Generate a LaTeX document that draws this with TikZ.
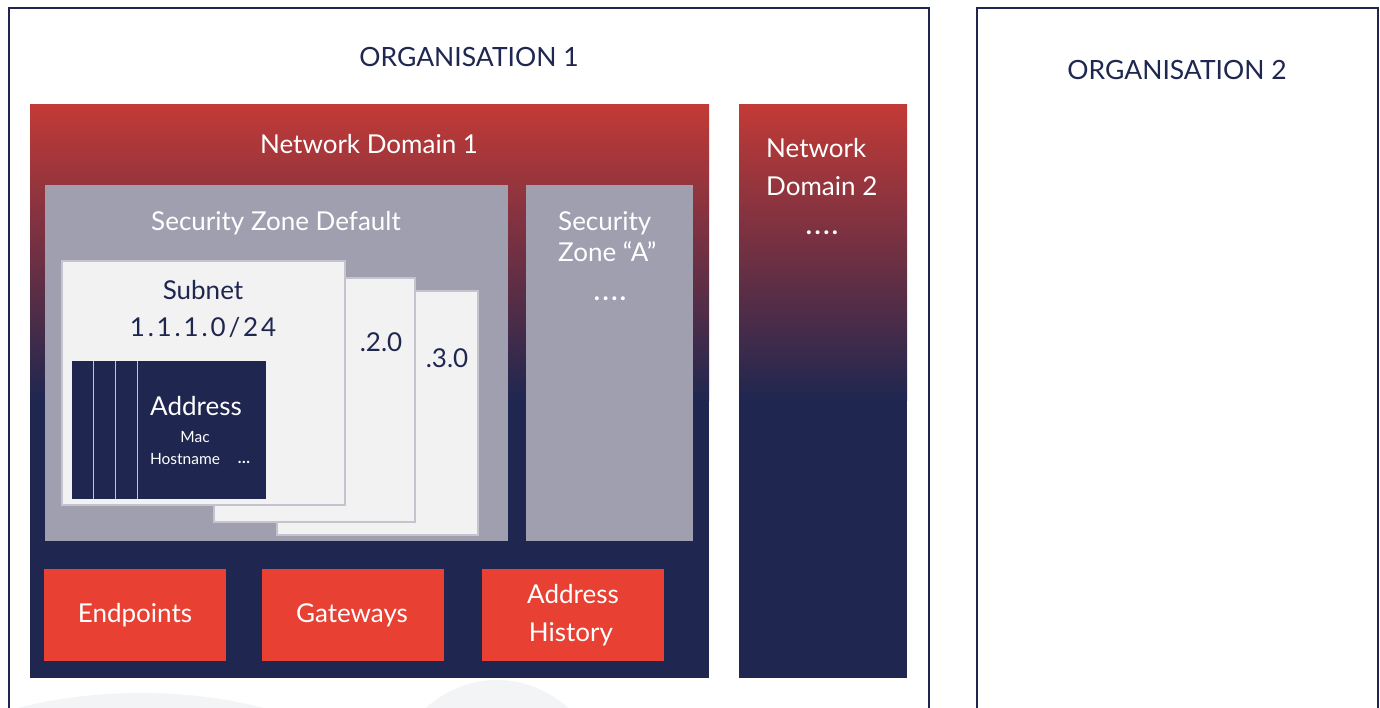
\documentclass[tikz,border=0pt]{standalone}
\usepackage{fontspec}
\setmainfont{Lato}
\definecolor{navy}{HTML}{1F2750}
\definecolor{domred}{HTML}{C23A36}
\definecolor{zonegrey}{HTML}{A09FB0}
\definecolor{subfill}{HTML}{F2F2F2}
\definecolor{subline}{HTML}{C4C4CE}
\definecolor{boxred}{HTML}{E84033}
\definecolor{wmgrey}{HTML}{F3F4F6}
\begin{document}
\begin{tikzpicture}[x=1pt,y=-1pt,
  lbl/.style={inner sep=0pt, text height=0.72em, text depth=0pt},
  orgtext/.style={lbl, yshift=-6pt, text=navy, font=\fontsize{26.5}{30}\selectfont},
  wtext/.style={lbl, yshift=-6pt, text=white, font=\fontsize{26}{30}\selectfont},
  ntext/.style={lbl, yshift=-6pt, text=navy, font=\fontsize{26}{30}\selectfont},
  smalltext/.style={lbl, yshift=-2.5pt, text=white, font=\fontsize{15.5}{18}\selectfont},
  orgline/.style={draw=navy, line width=1.4pt},
  subnetbox/.style={fill=subfill, draw=subline, line width=1.2pt},
  redbox/.style={fill=boxred}]
\useasboundingbox (0,0) rectangle (1380,708);
\fill[white] (0,0) rectangle (1380,708);
% watermark shapes
\begin{scope}
  \clip (9,8) rectangle (929,708);
  \fill[wmgrey] (141,800) ellipse [x radius=240, y radius=107];
  \fill[wmgrey] (497,810) ellipse [x radius=115, y radius=130];
\end{scope}
% organisations
\draw[orgline] (9,712) -- (9,8) -- (929,8) -- (929,712);
\draw[orgline] (977,712) -- (977,8) -- (1378,8) -- (1378,712);
\node[orgtext] (org1) at (469,57) {ORGANISATION 1};
\node[orgtext] (org2) at (1177,70) {ORGANISATION 2};
% network domains
\fill[navy] (30,105) rectangle (709,678);
\shade[top color=domred, bottom color=navy] (30,105) rectangle (709,400);
\fill[navy] (739,105) rectangle (907,678);
\shade[top color=domred, bottom color=navy] (739,105) rectangle (907,400);
\node[wtext] (nd1) at (369,144) {Network Domain 1};
\node[wtext, anchor=west] (nd2a) at (766,148) {Network};
\node[wtext, anchor=west] (nd2b) at (766,186) {Domain 2};
\node[wtext] (nd2dots) at (822,225) {\textbf{.\hspace{2.5pt}.\hspace{2.5pt}.\hspace{2.5pt}.}};
% security zones
\fill[zonegrey] (45,185) rectangle (508,541);
\fill[zonegrey] (526,185) rectangle (693,541);
\node[wtext] (szd) at (276,221) {Security Zone Default};
\node[wtext, anchor=west] (sza1) at (558,221) {Security};
\node[wtext, anchor=west] (sza2) at (558,252) {Zone “A”};
\node[wtext] (szadots) at (610,291) {\textbf{.\hspace{2.5pt}.\hspace{2.5pt}.\hspace{2.5pt}.}};
% subnets
\draw[subnetbox] (277,291) rectangle (478,535);
\draw[subnetbox] (214,278) rectangle (415,522);
\draw[subnetbox] (62,261) rectangle (345,505);
\node[ntext] (s3) at (447,358) {.3.0};
\node[ntext] (s2) at (381,342) {.2.0};
\node[ntext] (s1) at (203,290) {Subnet};
\node[ntext] (s1ip) at (203,327) {\addfontfeatures{LetterSpace=11}1.1.1.0/24};
% address
\fill[navy] (72,361) rectangle (266,499);
\foreach \xx in {93,115,137} \draw[subline, line width=1pt] (\xx,361) -- (\xx,499);
\node[wtext] (addr) at (196,406) {Address};
\node[smalltext] (mac) at (195,436) {Mac};
\node[smalltext] (host) at (185,458) {Hostname};
\node[smalltext] (hdots) at (244,457) {\textbf{.\hspace{0.5pt}.\hspace{0.5pt}.}};
% bottom boxes
\fill[redbox] (44,569) rectangle (226,661);
\fill[redbox] (262,569) rectangle (444,661);
\fill[redbox] (482,569) rectangle (664,661);
\node[wtext] (ep) at (135,613) {Endpoints};
\node[wtext] (gw) at (352,613) {Gateways};
\node[wtext] (ah1) at (573,594) {Address};
\node[wtext] (ah2) at (571,632) {History};
\end{tikzpicture}
\end{document}
